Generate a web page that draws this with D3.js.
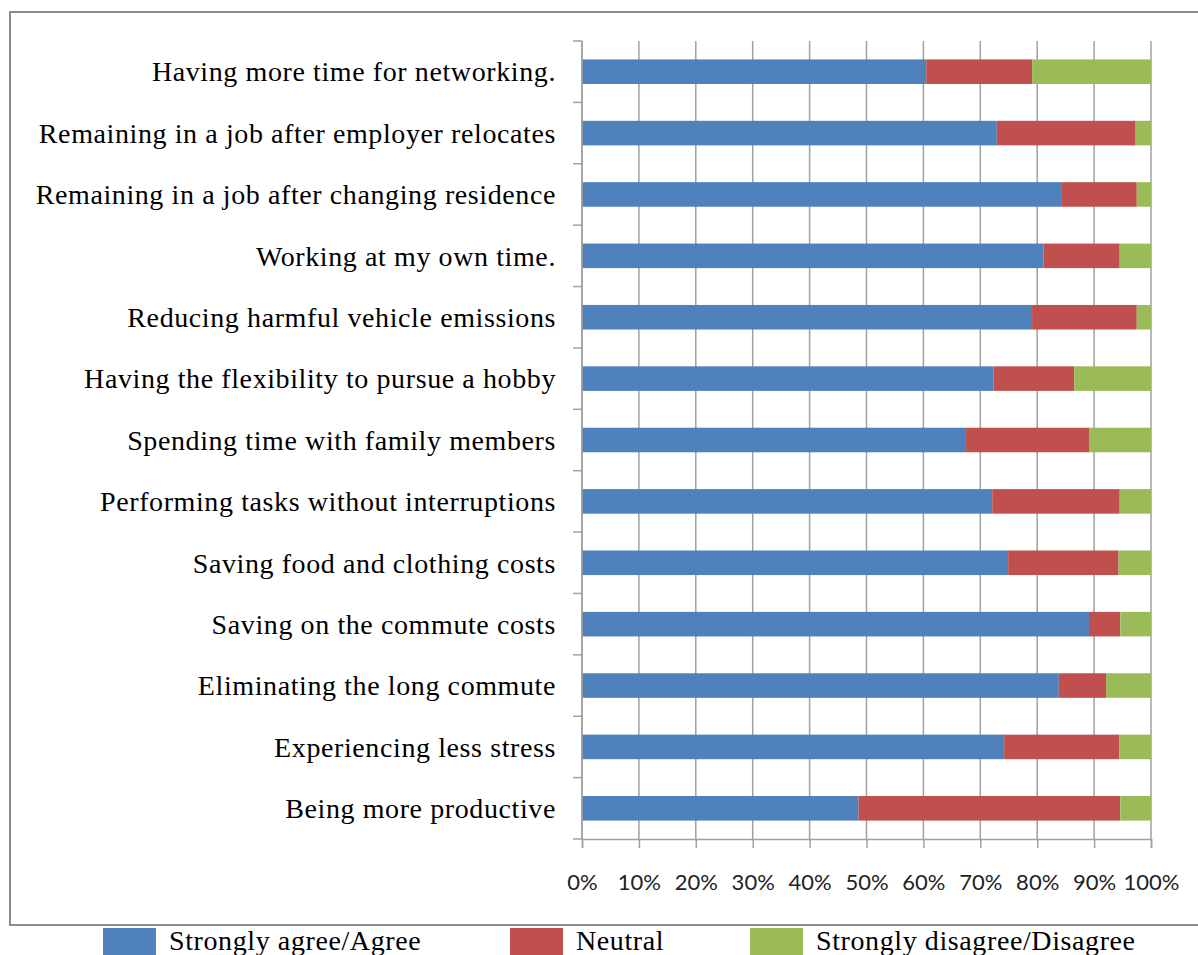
<!DOCTYPE html>
<html>
<head>
<meta charset="utf-8">
<script src="https://cdn.jsdelivr.net/npm/d3@7"></script>
<style>
  html, body { margin: 0; padding: 0; background: #fff; }
  svg { display: block; }
</style>
</head>
<body>
<svg id="chart" width="1198" height="955"></svg>
<script>
// Survey items, listed top to bottom
const categories = [
  "Having more time for networking.",
  "Remaining in a job after employer relocates",
  "Remaining in a job after changing residence",
  "Working at my own time.",
  "Reducing harmful vehicle emissions",
  "Having the flexibility to pursue a hobby",
  "Spending time with family members",
  "Performing tasks without interruptions",
  "Saving food and clothing costs",
  "Saving on the commute costs",
  "Eliminating the long commute",
  "Experiencing less stress",
  "Being more productive"
];

// Response shares (%) per item
const agree    = [60.5, 72.9, 84.2, 81.1, 79.1, 72.3, 67.5, 72.1, 74.9, 89.1, 83.8, 74.2, 48.6];
const neutral  = [18.6, 24.4, 13.3, 13.4, 18.4, 14.2, 21.6, 22.4, 19.4,  5.5,  8.3, 20.2, 46.0];
const disagree = [20.9,  2.7,  2.5,  5.5,  2.5, 13.5, 10.9,  5.5,  5.7,  5.4,  7.9,  5.6,  5.4];

const seriesNames = ["Strongly agree/Agree", "Neutral", "Strongly disagree/Disagree"];
const seriesColors = ["#4F81BD", "#C0504D", "#9BBB59"];
const xTicks = [0, 10, 20, 30, 40, 50, 60, 70, 80, 90, 100];

const serif = "'Liberation Serif', 'Times New Roman', serif";
const svg = d3.select("#chart");

// outer frame
svg.append("rect")
  .attr("x", 10).attr("y", 12)
  .attr("width", 1200).attr("height", 913)
  .attr("fill", "none")
  .attr("stroke", "#8c8c8c")
  .attr("stroke-width", 2);

const plot = { left: 582, right: 1151, top: 41, bottom: 839 };

const x = d3.scaleLinear().domain([0, 100]).range([plot.left, plot.right]);
const y = d3.scaleBand().domain(categories).range([plot.top, plot.bottom]).paddingInner(0.6).paddingOuter(0.3);

// vertical gridlines
svg.append("g")
  .selectAll("line")
  .data(xTicks)
  .join("line")
  .attr("x1", d => x(d)).attr("x2", d => x(d))
  .attr("y1", plot.top).attr("y2", plot.bottom)
  .attr("stroke", "#a0a0a0")
  .attr("stroke-width", 1.5);

// stacked bars
const rows = categories.map((c, i) => ({ cat: c, a: agree[i], n: neutral[i], d: disagree[i] }));
const stack = d3.stack().keys(["a", "n", "d"]);
const layers = stack(rows);

svg.append("g")
  .selectAll("g")
  .data(layers)
  .join("g")
  .attr("fill", (d, i) => seriesColors[i])
  .selectAll("rect")
  .data(d => d)
  .join("rect")
  .attr("x", d => x(d[0]))
  .attr("width", d => x(d[1]) - x(d[0]))
  .attr("y", d => y(d.data.cat))
  .attr("height", y.bandwidth());

// x axis
const xAxis = d3.axisBottom(x)
  .tickValues(xTicks)
  .tickFormat(d => d + "%")
  .tickSize(9)
  .tickPadding(26);

const gx = svg.append("g")
  .attr("transform", `translate(0,${plot.bottom})`)
  .call(xAxis);
gx.select(".domain").attr("stroke", "#a0a0a0").attr("stroke-width", 1.5);
gx.selectAll(".tick line").attr("stroke", "#a0a0a0").attr("stroke-width", 1.5);
gx.selectAll(".tick text")
  .attr("font-family", "Lato, 'Liberation Sans', sans-serif")
  .attr("font-size", 22)
  .attr("fill", "#222");

// y axis: ticks at band boundaries, labels centred on bands
const step = (plot.bottom - plot.top) / categories.length;
const gy = svg.append("g");
gy.append("line")
  .attr("x1", plot.left).attr("x2", plot.left)
  .attr("y1", plot.top).attr("y2", plot.bottom)
  .attr("stroke", "#a0a0a0").attr("stroke-width", 1.5);
gy.selectAll("line.tk")
  .data(d3.range(categories.length + 1))
  .join("line")
  .attr("class", "tk")
  .attr("x1", plot.left - 9).attr("x2", plot.left)
  .attr("y1", i => plot.top + i * step).attr("y2", i => plot.top + i * step)
  .attr("stroke", "#a0a0a0").attr("stroke-width", 1.5);
gy.selectAll("text")
  .data(categories)
  .join("text")
  .attr("x", plot.left - 26)
  .attr("y", d => y(d) + y.bandwidth() / 2)
  .attr("dy", "0.35em")
  .attr("text-anchor", "end")
  .attr("font-family", serif)
  .attr("font-size", 28)
  .attr("letter-spacing", 0.6)
  .attr("fill", "#000")
  .text(d => d);

// legend
const legendX = [103, 510, 750];
const lg = svg.append("g")
  .selectAll("g")
  .data(seriesNames)
  .join("g")
  .attr("transform", (d, i) => `translate(${legendX[i]},928)`);
lg.append("rect")
  .attr("width", 53).attr("height", 27)
  .attr("fill", (d, i) => seriesColors[i]);
lg.append("text")
  .attr("x", 66).attr("y", 22)
  .attr("font-family", serif)
  .attr("font-size", 28)
  .attr("letter-spacing", 0.6)
  .attr("fill", "#000")
  .text(d => d);
</script>
</body>
</html>
